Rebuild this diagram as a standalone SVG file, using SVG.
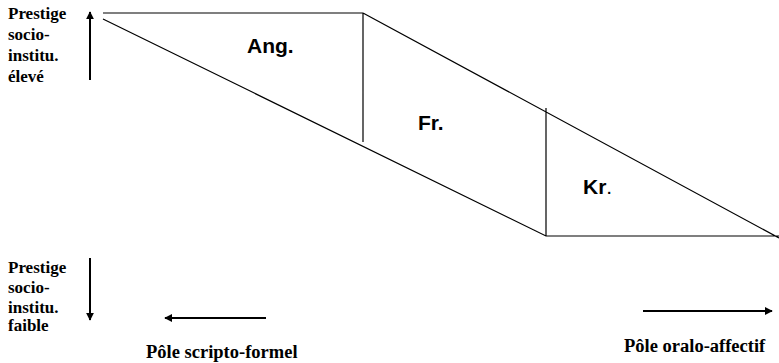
<svg xmlns="http://www.w3.org/2000/svg" width="779" height="363" viewBox="0 0 779 363">
<defs>
<marker id="ah" viewBox="0 0 10 10" refX="9" refY="5" markerWidth="8" markerHeight="8" markerUnits="userSpaceOnUse" orient="auto">
<path d="M0,0 L10,5 L0,10 z" fill="#000"/>
</marker>
<style>
.ln{stroke:#000;stroke-width:1.2;fill:none}
.ar{stroke:#000;stroke-width:2;fill:none;marker-end:url(#ah)}
.lb{font-family:"Liberation Serif","Times New Roman",serif;font-weight:bold;font-size:17px;fill:#000}
.bl{font-family:"Liberation Serif","Times New Roman",serif;font-weight:bold;font-size:18.5px;fill:#000}
.ar2{font-family:"Liberation Sans",Arial,sans-serif;font-weight:bold;font-size:21px;fill:#000}
</style>
</defs>
<rect width="779" height="363" fill="#fff"/>
<g id="shapes">
<path class="ln" d="M103,13 L363,13 M103,19 L546,236 L779,236 M363,13 L779,238 M363,13 L363,142 M546,108 L546,236"/>
</g>
<g id="connectors">
<line class="ar" x1="90" y1="80" x2="90" y2="12"/>
<line class="ar" x1="90" y1="258" x2="90" y2="320"/>
<line class="ar" x1="266" y1="318" x2="165" y2="318"/>
<line class="ar" x1="643" y1="311" x2="772" y2="311"/>
</g>
<g id="labels">
<text class="ar2" x="247" y="53">Ang.</text>
<text class="ar2" x="418" y="130">Fr.</text>
<text class="ar2" x="583" y="194">Kr<tspan font-weight="normal">.</tspan></text>
<text class="lb" x="8" y="19">Prestige</text>
<text class="lb" x="8" y="40">socio-</text>
<text class="lb" x="8" y="61">institu.</text>
<text class="lb" x="8" y="82">élevé</text>
<text class="lb" x="8" y="273">Prestige</text>
<text class="lb" x="8" y="293">socio-</text>
<text class="lb" x="8" y="313">institu.</text>
<text class="lb" x="8" y="331">faible</text>
<text class="bl" x="146" y="358">Pôle scripto-formel</text>
<text class="bl" x="624" y="352">Pôle oralo-affectif</text>
</g>
</svg>
